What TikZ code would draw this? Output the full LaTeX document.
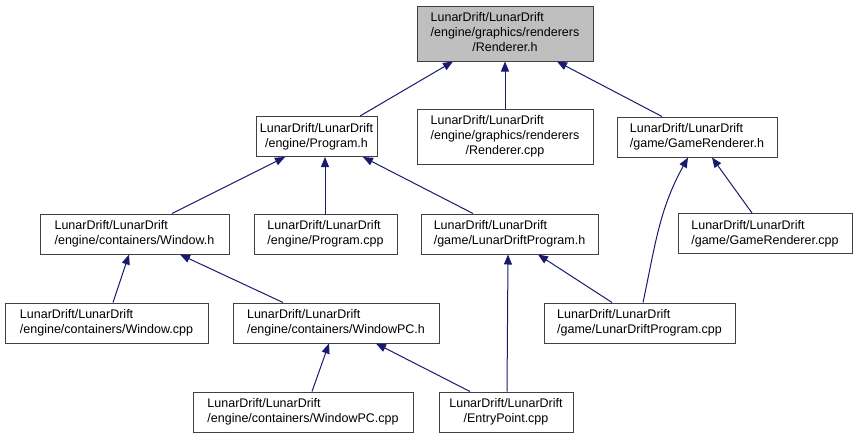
\documentclass[tikz,border=0pt]{standalone}
\usepackage{fontspec}
\setmainfont{Liberation Sans}
\usepackage{xcolor}
\usetikzlibrary{arrows.meta}

\definecolor{edgeblue}{HTML}{191970}
\definecolor{boxgray}{HTML}{404040}
\definecolor{curgray}{HTML}{BFBFBF}
\newcommand{\flbl}[2]{\begin{tabular}{@{}l@{}}#1\\\multicolumn{1}{@{}c@{}}{#2}\end{tabular}}

\begin{document}
\begin{tikzpicture}[x=1pt,y=-1pt,
  file/.style={draw=boxgray,line width=1pt,fill=white,inner sep=0pt,
    font=\fontsize{12.5}{15}\selectfont},
  edge/.style={draw=edgeblue,line width=1pt,-{Triangle[length=10pt,width=8pt]}}]
\useasboundingbox (0,0) rectangle (858,439);
% top row
\node[file,fill=curgray,minimum width=176,minimum height=55](rendh) at (505,33.5)
  {\flbl{LunarDrift/LunarDrift\\/engine/graphics/renderers}{/Renderer.h}};
% second row
\node[file,minimum width=121,minimum height=40](progh) at (316.5,136.5)
  {\flbl{LunarDrift/LunarDrift}{/engine/Program.h}};
\node[file,minimum width=176,minimum height=55](rendcpp) at (505,136.5)
  {\flbl{LunarDrift/LunarDrift\\/engine/graphics/renderers}{/Renderer.cpp}};
\node[file,minimum width=160,minimum height=40](gamerh) at (697,137)
  {\flbl{LunarDrift/LunarDrift}{/game/GameRenderer.h}};
% third row
\node[file,minimum width=189,minimum height=40](windowh) at (134.5,234)
  {\flbl{LunarDrift/LunarDrift}{/engine/containers/Window.h}};
\node[file,minimum width=143,minimum height=40](progcpp) at (325.5,234)
  {\flbl{LunarDrift/LunarDrift}{/engine/Program.cpp}};
\node[file,minimum width=177,minimum height=40](ldph) at (509.5,234)
  {\flbl{LunarDrift/LunarDrift}{/game/LunarDriftProgram.h}};
\node[file,minimum width=174,minimum height=40](gamercpp) at (765,233.5)
  {\flbl{LunarDrift/LunarDrift}{/game/GameRenderer.cpp}};
% fourth row
\node[file,minimum width=203,minimum height=40](windowcpp) at (106.5,323)
  {\flbl{LunarDrift/LunarDrift}{/engine/containers/Window.cpp}};
\node[file,minimum width=206,minimum height=40](windowpch) at (336,323)
  {\flbl{LunarDrift/LunarDrift}{/engine/containers/WindowPC.h}};
\node[file,minimum width=191,minimum height=40](ldpcpp) at (639.5,323)
  {\flbl{LunarDrift/LunarDrift}{/game/LunarDriftProgram.cpp}};
% bottom row
\node[file,minimum width=220,minimum height=40](windowpccpp) at (303,412)
  {\flbl{LunarDrift/LunarDrift}{/engine/containers/WindowPC.cpp}};
\node[file,minimum width=134,minimum height=40](entrycpp) at (506,412)
  {\flbl{LunarDrift/LunarDrift}{/EntryPoint.cpp}};
% includes
\draw[edge]([xshift=43.5]progh.north)--([xshift=-52]rendh.south);
\draw[edge](rendcpp.north)--(rendh.south);
\draw[edge]([xshift=-35]gamerh.north)--([xshift=52]rendh.south);
\draw[edge]([xshift=37.5]windowh.north)--([xshift=-31.5]progh.south);
\draw[edge]([xshift=-0.5]progcpp.north)--([xshift=-0.5]progcpp.north|-progh.south);
\draw[edge]([xshift=-36.5]ldph.north)--([xshift=46.5]progh.south);
\draw[edge]([xshift=3.5]ldpcpp.north) to[out=78,in=-119]([xshift=-9]gamerh.south);
\draw[edge]([xshift=-13]gamercpp.north)--([xshift=15]gamerh.south);
\draw[edge]([xshift=6.5]windowcpp.north)--([xshift=-5.5]windowh.south);
\draw[edge]([xshift=-53]windowpch.north)--([xshift=45.5]windowh.south);
\draw[edge]([xshift=-27.5]ldpcpp.north)--([xshift=28.5]ldph.south);
\draw[edge]([xshift=1]entrycpp.north)--([xshift=-1.5]ldph.south);
\draw[edge]([xshift=9]windowpccpp.north)--([xshift=-7]windowpch.south);
\draw[edge]([xshift=-36]entrycpp.north)--([xshift=40]windowpch.south);
\end{tikzpicture}
\end{document}
